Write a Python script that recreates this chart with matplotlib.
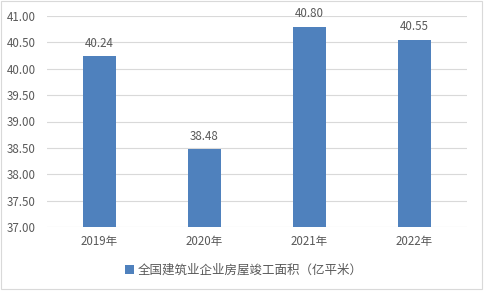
import matplotlib
matplotlib.use("Agg")
import matplotlib.pyplot as plt
from matplotlib.patches import Rectangle

plt.rcParams['font.family'] = ['Noto Sans CJK SC', 'DejaVu Sans']

categories = ["2019年", "2020年", "2021年", "2022年"]
values = [40.24, 38.48, 40.80, 40.55]
yticks = [37.00, 37.50, 38.00, 38.50, 39.00, 39.50, 40.00, 40.50, 41.00]
series_name = "全国建筑业企业房屋竣工面积（亿平米）"

W, H = 485, 293
fig = plt.figure(figsize=(W/100, H/100), dpi=100)
ax = fig.add_axes([47/W, (H-227)/H, (467-47)/W, (227-16)/H])

color = "#4f81bd"
txt = "#595959"
x = list(range(len(categories)))
bars = ax.bar(x, values, width=0.315, color=color, zorder=3, label=series_name)
for xi, v in zip(x, values):
    ax.text(xi, v + 0.12, f"{v:.2f}", ha="center", va="bottom", fontsize=8.3, color=txt)

ax.set_ylim(37, 41)
ax.set_xlim(-0.5, 3.5)
ax.set_yticks(yticks)
ax.set_yticklabels([f"{t:.2f}" for t in yticks], fontsize=8.3, color=txt)
ax.set_xticks(x)
ax.set_xticklabels(categories, fontsize=8.3, color=txt)
ax.tick_params(length=0, pad=6)
ax.tick_params(axis='y', pad=8)
ax.grid(axis='y', color="#d9d9d9", linewidth=0.8, zorder=0)
for s in ax.spines.values():
    s.set_visible(False)

leg = fig.legend(handles=[bars], labels=[series_name], loc="center",
                 bbox_to_anchor=(244/W, (H-270)/H), frameon=False,
                 fontsize=9, handlelength=0.7, handleheight=0.7, handletextpad=0.3,
                 labelcolor=txt)

fig.patches.append(Rectangle((1/W, (H-289)/H), 481/W, 288/H, transform=fig.transFigure,
                             fill=False, edgecolor="#d9d9d9", linewidth=0.8))
fig.savefig("out.png", dpi=100, facecolor="white")
